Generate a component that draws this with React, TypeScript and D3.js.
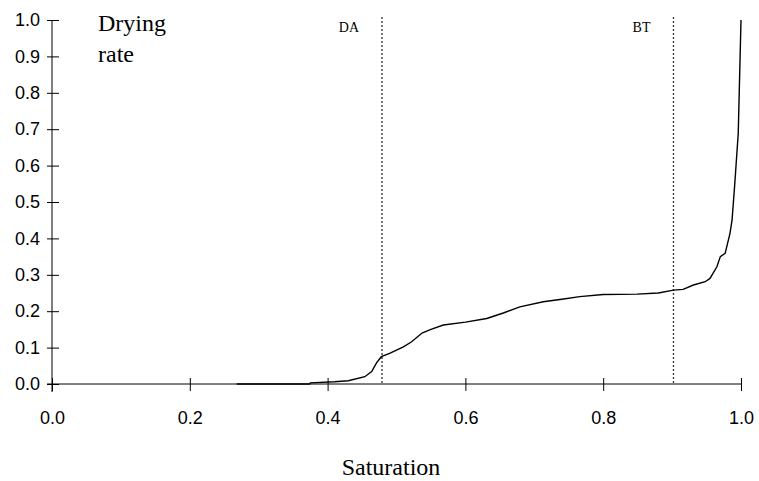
import { useEffect, useRef } from "react";
import * as d3 from "d3";

// curve
const saturation = [0.268, 0.3, 0.374, 0.375, 0.41, 0.43, 0.454, 0.464, 0.471, 0.478, 0.49, 0.51, 0.522, 0.537, 0.55, 0.568, 0.6, 0.631, 0.655, 0.679, 0.713, 0.74, 0.766, 0.8, 0.849, 0.88, 0.902, 0.916, 0.931, 0.948, 0.955, 0.965, 0.97, 0.977, 0.984, 0.987, 0.991, 0.996, 1.0];
const dryingRate = [0, 0, 0, 0.003, 0.006, 0.009, 0.02, 0.034, 0.058, 0.075, 0.084, 0.102, 0.116, 0.14, 0.15, 0.162, 0.17, 0.18, 0.195, 0.212, 0.226, 0.233, 0.24, 0.246, 0.247, 0.25, 0.258, 0.26, 0.272, 0.281, 0.29, 0.322, 0.35, 0.359, 0.414, 0.45, 0.551, 0.689, 1.0];

const xTicks = [0, 0.2, 0.4, 0.6, 0.8, 1.0];
const yTicks = [0, 0.1, 0.2, 0.3, 0.4, 0.5, 0.6, 0.7, 0.8, 0.9, 1.0];

const markerNames = ["DA", "BT"];
const markerValues = [0.479, 0.902];

const App = () => {
    const chartRef = useRef<SVGSVGElement>(null);

    useEffect(() => {
        const svg = d3.select(chartRef.current);
        svg.selectAll("*").remove();

        const x = d3.scaleLinear().domain([0, 1]).range([52, 741]);
        const y = d3.scaleLinear().domain([0, 1]).range([384, 20]);

        const tickFont = "'Liberation Sans', Arial, sans-serif";
        const serif = "'Liberation Serif', 'Times New Roman', serif";

        // x axis
        const xAxis = svg
            .append("g")
            .attr("transform", `translate(0,${y(0)})`)
            .call(d3.axisBottom(x).tickValues(xTicks).tickFormat(d3.format(".1f")).tickSizeInner(7).tickSizeOuter(0).tickPadding(20));
        xAxis.select(".domain").attr("d", `M${x(0) - 5},0H${x(1)}`).attr("stroke", "#000");
        xAxis.selectAll(".tick line").attr("y1", -6).attr("y2", 7).attr("stroke", "#000");
        xAxis.selectAll(".tick text").attr("font-family", tickFont).attr("font-size", 18).attr("fill", "#000");

        // y axis
        const yAxis = svg
            .append("g")
            .attr("transform", `translate(${x(0)},0)`)
            .call(d3.axisLeft(y).tickValues(yTicks).tickFormat(d3.format(".1f")).tickSizeInner(5).tickSizeOuter(0).tickPadding(7));
        yAxis.select(".domain").attr("d", `M0,${y(0) + 8}V${y(1)}`).attr("stroke", "#000");
        yAxis.selectAll(".tick line").attr("x1", -5).attr("x2", 7).attr("stroke", "#000");
        yAxis.selectAll(".tick text").attr("font-family", tickFont).attr("font-size", 18).attr("fill", "#000");

        // marker lines
        markerValues.forEach((v, i) => {
            svg.append("line")
                .attr("x1", x(v)).attr("x2", x(v))
                .attr("y1", 17).attr("y2", y(0))
                .attr("stroke", "#333")
                .attr("stroke-width", 1.3)
                .attr("stroke-dasharray", "2,2");
            svg.append("text")
                .attr("x", x(v) - 23)
                .attr("y", 32)
                .attr("text-anchor", "end")
                .attr("font-family", serif)
                .attr("font-size", 14)
                .text(markerNames[i]);
        });

        // drying curve
        const points: [number, number][] = saturation.map((s, i) => [s, dryingRate[i]]);
        const line = d3.line<[number, number]>().x((d) => x(d[0])).y((d) => y(d[1]));
        svg.append("path")
            .datum(points)
            .attr("d", line)
            .attr("fill", "none")
            .attr("stroke", "#000")
            .attr("stroke-width", 1.4);

        // labels
        svg.append("text").attr("x", 98).attr("y", 31).attr("font-family", serif).attr("font-size", 24).text("Drying");
        svg.append("text").attr("x", 98).attr("y", 62).attr("font-family", serif).attr("font-size", 24).text("rate");
        svg.append("text").attr("x", 391).attr("y", 475).attr("text-anchor", "middle").attr("font-family", serif).attr("font-size", 24).text("Saturation");
    }, []);

    return (
        <svg ref={chartRef} width={759} height={481} style={{ position: "absolute", left: 0, top: 0, background: "#fff" }}></svg>
    );
};

export default App;
